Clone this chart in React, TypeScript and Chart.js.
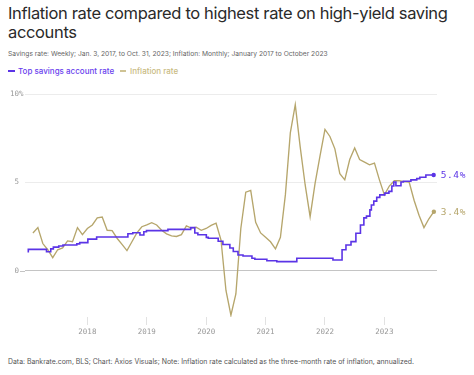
import React, { useEffect, useRef } from "react";
import { Chart, registerables } from "chart.js";

Chart.register(...registerables);

// Inflation: monthly, Jan 2017 .. Oct 2023 (three-month annualized rate, %)
const inflationStart = { year: 2017, month: 1 };
const inflationValues = [
  // 2017
  2.15, 2.45, 1.55, 1.2, 0.75, 1.2, 1.3, 1.7, 1.65, 2.45, 2.05, 2.4,
  // 2018
  2.6, 3.0, 3.05, 2.3, 2.28, 1.85, 1.5, 1.15, 1.65, 2.15, 2.5, 2.6,
  // 2019
  2.73, 2.6, 2.3, 2.1, 1.98, 1.95, 2.05, 2.55, 2.42, 2.47, 2.3, 2.4,
  // 2020
  2.58, 2.7, 1.75, -1.1, -2.5, -1.3, 2.4, 4.45, 4.55, 2.75, 2.15, 1.9,
  // 2021
  1.65, 1.25, 1.9, 4.3, 7.8, 9.4, 7.0, 4.86, 3.07, 4.95, 6.5, 8.0,
  // 2022
  7.6, 6.9, 5.5, 5.15, 6.3, 6.95, 6.3, 6.15, 6.0, 6.1, 5.15, 4.3,
  // 2023
  4.8, 5.1, 5.1, 5.05, 5.03, 4.0, 3.15, 2.45, 2.95, 3.35,
];

// Top savings account rate: weekly series, given at the dates where it changes (%)
const savingsDates = [
  "2017-01-03", "2017-04-25", "2017-05-21", "2017-06-06", "2017-07-09", "2017-08-04",
  "2017-10-28", "2017-11-15", "2018-01-04", "2018-02-27", "2018-09-07", "2018-10-07",
  "2018-11-20", "2018-12-14", "2018-12-30", "2019-05-11", "2019-09-28", "2019-10-23",
  "2019-11-11", "2020-01-02", "2020-01-14", "2020-03-15", "2020-04-13", "2020-05-26",
  "2020-06-16", "2020-07-15", "2020-08-15", "2020-10-09", "2020-10-27", "2021-01-09",
  "2021-03-11", "2021-07-12", "2022-02-19", "2022-04-16", "2022-05-10", "2022-06-10",
  "2022-07-10", "2022-08-07", "2022-08-28", "2022-09-13", "2022-10-04", "2022-10-13",
  "2022-10-28", "2022-11-15", "2022-12-04", "2023-01-04", "2023-01-29", "2023-02-16",
  "2023-02-28", "2023-03-13", "2023-04-13", "2023-04-28", "2023-06-13", "2023-07-19",
  "2023-08-07", "2023-09-13", "2023-10-31",
];
const savingsValues = [
  1.05, 1.22, 1.09, 1.25, 1.35, 1.41,
  1.47, 1.53, 1.6, 1.8, 1.92, 2.1,
  2.16, 2.03, 2.22, 2.28, 2.35, 2.45,
  2.15, 2.05, 1.9, 1.85, 1.68, 1.5,
  1.3, 1.1, 0.9, 0.85, 0.72, 0.66,
  0.58, 0.53, 0.72, 0.62, 1.2, 1.47,
  1.66, 2.13, 2.6, 3.0, 3.1, 3.45,
  3.73, 3.95, 4.16, 4.3, 4.4, 4.5,
  4.8, 5.03, 4.82, 5.03, 5.07, 5.15,
  5.22, 5.3, 5.42,
];

const yearTicks = [2018, 2019, 2020, 2021, 2022, 2023];
const yTicks = [0, 5, 10];

const PURPLE = "#5b34e6";
const TAN = "#b6a66c";

function dateToYear(s: string): number {
  const [y, m, d] = s.split("-").map(Number);
  const start = Date.UTC(y, 0, 1);
  const end = Date.UTC(y + 1, 0, 1);
  return y + (Date.UTC(y, m - 1, d) - start) / (end - start);
}

const inflationPoints = inflationValues.map((v, i) => ({
  // plotted at the end of each month
  x: inflationStart.year + (inflationStart.month - 1 + i + 1) / 12,
  y: v,
}));
const savingsPoints = savingsDates.map((d, i) => ({ x: dateToYear(d), y: savingsValues[i] }));

const overlay = {
  id: "overlay",
  afterDraw(chart: any) {
    const ctx = chart.ctx;
    const ys = chart.scales.y;
    const xs = chart.scales.x;
    const area = chart.chartArea;
    ctx.save();
    // zero line extension to the left
    const y0 = Math.round(ys.getPixelForValue(0)) + 0.5;
    ctx.strokeStyle = "#c4c4c4";
    ctx.lineWidth = 1;
    ctx.beginPath();
    ctx.moveTo(area.left - 5, y0);
    ctx.lineTo(area.left, y0);
    ctx.stroke();
    // y labels
    ctx.font = "7.5px 'DejaVu Sans Mono'";
    ctx.fillStyle = "#999";
    ctx.textBaseline = "middle";
    yTicks.forEach((t) => {
      const py = ys.getPixelForValue(t);
      ctx.textAlign = "right";
      ctx.fillText(String(t), area.left - 6, py);
      if (t === 10) {
        ctx.textAlign = "left";
        ctx.fillText("%", area.left - 6, py);
      }
    });
    // end dots and labels
    const ends = [
      { p: savingsPoints[savingsPoints.length - 1], c: PURPLE },
      { p: inflationPoints[inflationPoints.length - 1], c: TAN },
    ];
    ends.forEach(({ p, c }) => {
      const px = xs.getPixelForValue(p.x);
      const py = ys.getPixelForValue(p.y);
      ctx.fillStyle = c;
      ctx.beginPath();
      ctx.arc(px, py, 2.2, 0, Math.PI * 2);
      ctx.fill();
      ctx.font = "9.5px 'DejaVu Sans Mono'";
      (ctx as any).letterSpacing = "0.6px";
      ctx.textAlign = "left";
      ctx.textBaseline = "middle";
      ctx.fillText(p.y.toFixed(1) + "%", px + 7, py + 0.5);
      (ctx as any).letterSpacing = "0px";
    });
    ctx.restore();
  },
};

function ChartCanvas() {
  const ref = useRef<HTMLCanvasElement>(null);
  useEffect(() => {
    if (!ref.current) return;
    const chart = new Chart(ref.current, {
      type: "line",
      data: {
        datasets: [
          {
            label: "Top savings account rate",
            data: savingsPoints,
            borderColor: PURPLE,
            borderWidth: 1.6,
            pointRadius: 0,
            stepped: "after",
          },
          {
            label: "Inflation rate",
            data: inflationPoints,
            borderColor: TAN,
            borderWidth: 1.35,
            pointRadius: 0,
            tension: 0,
          },
        ],
      },
      options: {
        responsive: false,
        animation: false,
        events: [],
        layout: { padding: { left: 25, right: 37, top: 9, bottom: 0 } },
        plugins: { legend: { display: false }, tooltip: { enabled: false } },
        scales: {
          x: {
            type: "linear",
            min: 2016.95,
            max: 2023.886,
            afterBuildTicks: (s: any) => {
              s.ticks = yearTicks.map((v) => ({ value: v }));
            },
            afterFit: (s: any) => {
              s.height = 30;
            },
            border: { display: false },
            grid: { drawOnChartArea: false, tickLength: 8, color: "#e2e2e2" },
            ticks: {
              font: { family: "'DejaVu Sans Mono'", size: 7.5 },
              color: "#999",
              padding: 3,
              maxRotation: 0,
              callback: (v: any) => String(v),
            },
          },
          y: {
            min: -2.6,
            max: 10,
            afterBuildTicks: (s: any) => {
              s.ticks = yTicks.map((v) => ({ value: v }));
            },
            afterFit: (s: any) => {
              s.width = 0;
            },
            border: { display: false },
            grid: {
              drawTicks: false,
              color: (c: any) => (c.tick && c.tick.value === 0 ? "#c4c4c4" : "#ececec"),
            },
            ticks: { display: false },
          },
        },
      },
      plugins: [overlay],
    });
    return () => chart.destroy();
  }, []);
  return <canvas ref={ref} width={474} height={262} style={{ position: "absolute", left: 0, top: 85, width: 474, height: 262 }} />;
}

export default function App() {
  const font = "Inter, 'Noto Sans', sans-serif";
  return (
    <div style={{ position: "fixed", left: 0, top: 0, width: 474, height: 375, background: "#fff", fontFamily: font, overflow: "hidden" }}>
      <div style={{ position: "absolute", left: 8, top: 4, width: 462, fontSize: 16.5, lineHeight: "18.5px", letterSpacing: "-0.35px", color: "#2a2a2a", fontWeight: 400 }}>
        Inflation rate compared to highest rate on high-yield saving accounts
      </div>
      <div style={{ position: "absolute", left: 8, top: 50, fontSize: 6.7, color: "#666", whiteSpace: "nowrap" }}>
        Savings rate: Weekly; Jan. 3, 2017, to Oct. 31, 2023; Inflation: Monthly; January 2017 to October 2023
      </div>
      <div style={{ position: "absolute", left: 8, top: 66, fontSize: 8, fontWeight: 500, whiteSpace: "nowrap", display: "flex", alignItems: "center" }}>
        <span style={{ display: "inline-block", width: 7, height: 2, background: PURPLE, marginRight: 3 }} />
        <span style={{ color: "#6a42ee" }}>Top savings account rate</span>
        <span style={{ display: "inline-block", width: 6, height: 2, background: "#cfc394", marginLeft: 6, marginRight: 4 }} />
        <span style={{ color: "#c9bb83" }}>Inflation rate</span>
      </div>
      <ChartCanvas />
      <div style={{ position: "absolute", left: 8, top: 357, fontSize: 6.9, color: "#555", whiteSpace: "nowrap" }}>
        Data: Bankrate.com, BLS; Chart: Axios Visuals; Note: Inflation rate calculated as the three-month rate of inflation, annualized.
      </div>
    </div>
  );
}
